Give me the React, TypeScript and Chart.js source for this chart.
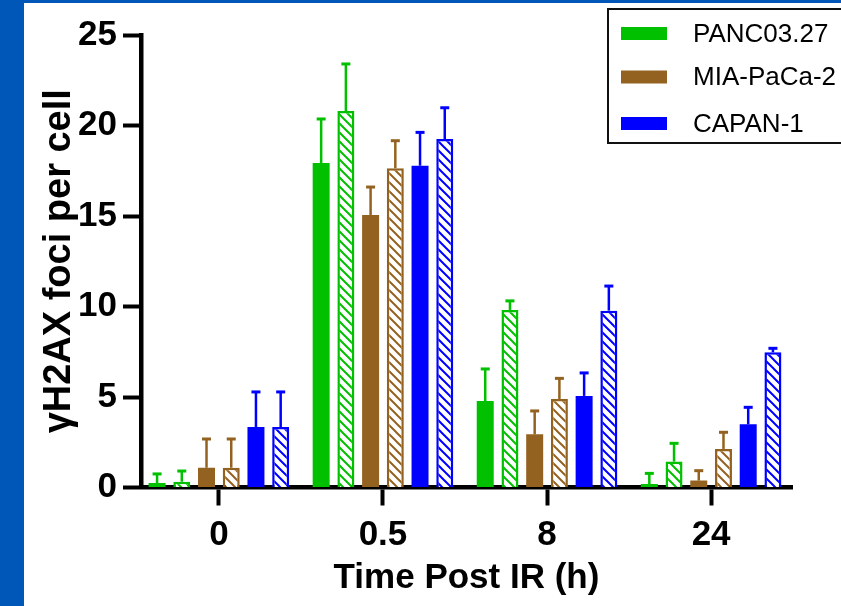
import React, { useEffect, useRef } from 'react';
import { Chart, registerables } from 'chart.js';

Chart.register(...registerables);

const categories = ['0', '0.5', '8', '24'];
const seriesNames = ['PANC03.27', 'MIA-PaCa-2', 'CAPAN-1'];
const seriesColors = ['#00C000', '#946220', '#0000FF'];

const pancSolid = [0.25, 17.93, 4.78, 0.19];
const pancSolidErr = [0.5, 2.43, 1.77, 0.59];
const pancHatched = [0.32, 20.8, 9.81, 1.43];
const pancHatchedErr = [0.59, 2.6, 0.5, 1.01];
const miaSolid = [1.09, 15.05, 2.94, 0.38];
const miaSolidErr = [1.59, 1.55, 1.29, 0.55];
const miaHatched = [1.09, 17.64, 4.89, 2.13];
const miaHatchedErr = [1.59, 1.52, 1.14, 0.92];
const capanSolid = [3.34, 17.78, 5.06, 3.49];
const capanSolidErr = [1.94, 1.84, 1.27, 0.94];
const capanHatched = [3.34, 19.25, 9.77, 7.47];
const capanHatchedErr = [1.94, 1.73, 1.36, 0.22];

const yMin = 0;
const yMax = 25;
const yStep = 5;

const FONT = '"Liberation Sans", Arial, Helvetica, sans-serif';

function makeHatch(ctx: CanvasRenderingContext2D, color: string) {
  const s = 9;
  const c = document.createElement('canvas');
  c.width = s;
  c.height = s;
  const g = c.getContext('2d')!;
  g.fillStyle = '#ffffff';
  g.fillRect(0, 0, s, s);
  g.strokeStyle = color;
  g.lineWidth = 2;
  g.beginPath();
  g.moveTo(-2, -2);
  g.lineTo(s + 2, s + 2);
  g.moveTo(-2, s - 2);
  g.lineTo(2, s + 2);
  g.moveTo(s - 2, -2);
  g.lineTo(s + 2, 2);
  g.stroke();
  return ctx.createPattern(c, 'repeat');
}

const framePlugin = {
  id: 'frame',
  beforeDraw(chart: any) {
    const { ctx, width, height } = chart;
    ctx.save();
    ctx.fillStyle = '#0057B7';
    ctx.fillRect(0, 0, width, height);
    ctx.fillStyle = '#ffffff';
    ctx.fillRect(24, 3, width - 24, height - 3);
    ctx.restore();
  },
};

const errorBarPlugin = {
  id: 'errorBars',
  afterDatasetsDraw(chart: any) {
    const ctx = chart.ctx;
    const yScale = chart.scales.y;
    chart.data.datasets.forEach((ds: any, i: number) => {
      const meta = chart.getDatasetMeta(i);
      meta.data.forEach((bar: any, j: number) => {
        const v = ds.data[j];
        const e = ds.errors[j];
        const x = bar.x;
        const y0 = yScale.getPixelForValue(v);
        const y1 = yScale.getPixelForValue(v + e);
        ctx.save();
        ctx.strokeStyle = ds.errColor;
        ctx.lineWidth = 2.5;
        ctx.beginPath();
        ctx.moveTo(x, y0);
        ctx.lineTo(x, y1);
        ctx.stroke();
        ctx.lineWidth = 3;
        ctx.beginPath();
        ctx.moveTo(x - 4.5, y1);
        ctx.lineTo(x + 4.5, y1);
        ctx.stroke();
        ctx.restore();
      });
    });
  },
};

const legendPlugin = {
  id: 'boxLegend',
  afterDraw(chart: any) {
    const ctx = chart.ctx;
    ctx.save();
    ctx.strokeStyle = '#111111';
    ctx.lineWidth = 2;
    ctx.strokeRect(608, 9, 250, 134);
    const rows = [33.5, 77, 123.5];
    seriesNames.forEach((name, i) => {
      ctx.fillStyle = seriesColors[i];
      ctx.fillRect(621, rows[i] - 6.5, 46, 13);
      ctx.fillStyle = '#000000';
      ctx.font = '26px ' + FONT;
      ctx.textBaseline = 'middle';
      ctx.textAlign = 'left';
      ctx.fillText(name, 693, rows[i] + 1);
    });
    ctx.restore();
  },
};

export default function App() {
  const ref = useRef<HTMLCanvasElement | null>(null);

  useEffect(() => {
    const canvas = ref.current!;
    const ctx = canvas.getContext('2d')!;
    const mk = (label: string, data: number[], errors: number[], color: string, hatched: boolean) => ({
      label,
      data,
      errors,
      errColor: color,
      backgroundColor: hatched ? makeHatch(ctx, color) : color,
      borderColor: color,
      borderWidth: hatched ? 2.5 : 0,
      borderSkipped: hatched ? 'bottom' : false,
    });
    const chart = new Chart(canvas, {
      type: 'bar',
      data: {
        labels: categories,
        datasets: [
          mk(seriesNames[0], pancSolid, pancSolidErr, seriesColors[0], false),
          mk(seriesNames[0] + ' (hatched)', pancHatched, pancHatchedErr, seriesColors[0], true),
          mk(seriesNames[1], miaSolid, miaSolidErr, seriesColors[1], false),
          mk(seriesNames[1] + ' (hatched)', miaHatched, miaHatchedErr, seriesColors[1], true),
          mk(seriesNames[2], capanSolid, capanSolidErr, seriesColors[2], false),
          mk(seriesNames[2] + ' (hatched)', capanHatched, capanHatchedErr, seriesColors[2], true),
        ] as any,
      },
      options: {
        animation: false,
        responsive: false,
        maintainAspectRatio: false,
        categoryPercentage: 0.904,
        barPercentage: 0.687,
        layout: { padding: { left: 0, top: 35, right: 49, bottom: 0 } },
        plugins: {
          legend: { display: false },
          tooltip: { enabled: false },
        },
        scales: {
          x: {
            type: 'category',
            offset: true,
            afterBuildTicks: (scale: any) => {
              scale._startValue = -0.4746;
              scale._valueRange = 3.9675;
            },
            afterFit: (scale: any) => {
              scale.height = 118.5;
            },
            grid: {
              display: true,
              offset: false,
              drawOnChartArea: false,
              drawTicks: true,
              tickLength: 18,
              tickWidth: 4,
              tickColor: '#000000',
              color: '#000000',
            },
            border: { display: true, width: 4.5, color: '#000000' },
            ticks: {
              color: '#000000',
              padding: 9,
              maxRotation: 0,
              autoSkip: false,
              font: { family: FONT, size: 35, weight: 'bold' },
            },
            title: {
              display: true,
              text: 'Time Post IR (h)',
              color: '#000000',
              padding: { top: 0, bottom: 7 },
              font: { family: FONT, size: 35, weight: 'bold' },
            },
          },
          y: {
            min: yMin,
            max: yMax,
            afterFit: (scale: any) => {
              scale.width = 141;
            },
            grid: {
              display: true,
              drawOnChartArea: false,
              drawTicks: true,
              tickLength: 18,
              tickWidth: 4,
              tickColor: '#000000',
              color: '#000000',
            },
            border: { display: true, width: 4.5, color: '#000000' },
            ticks: {
              stepSize: yStep,
              color: '#000000',
              padding: 6,
              font: { family: FONT, size: 35, weight: 'bold' },
            },
            title: {
              display: true,
              text: 'γH2AX foci per cell',
              color: '#000000',
              padding: { top: 37, bottom: 0 },
              font: { family: FONT, size: 38, weight: 'bold' },
            },
          },
        },
      } as any,
      plugins: [framePlugin, errorBarPlugin, legendPlugin],
    });
    return () => chart.destroy();
  }, []);

  return (
    <div style={{ position: 'fixed', left: 0, top: 0, width: 841, height: 606 }}>
      <canvas ref={ref} width={841} height={606} style={{ display: 'block' }} />
    </div>
  );
}
